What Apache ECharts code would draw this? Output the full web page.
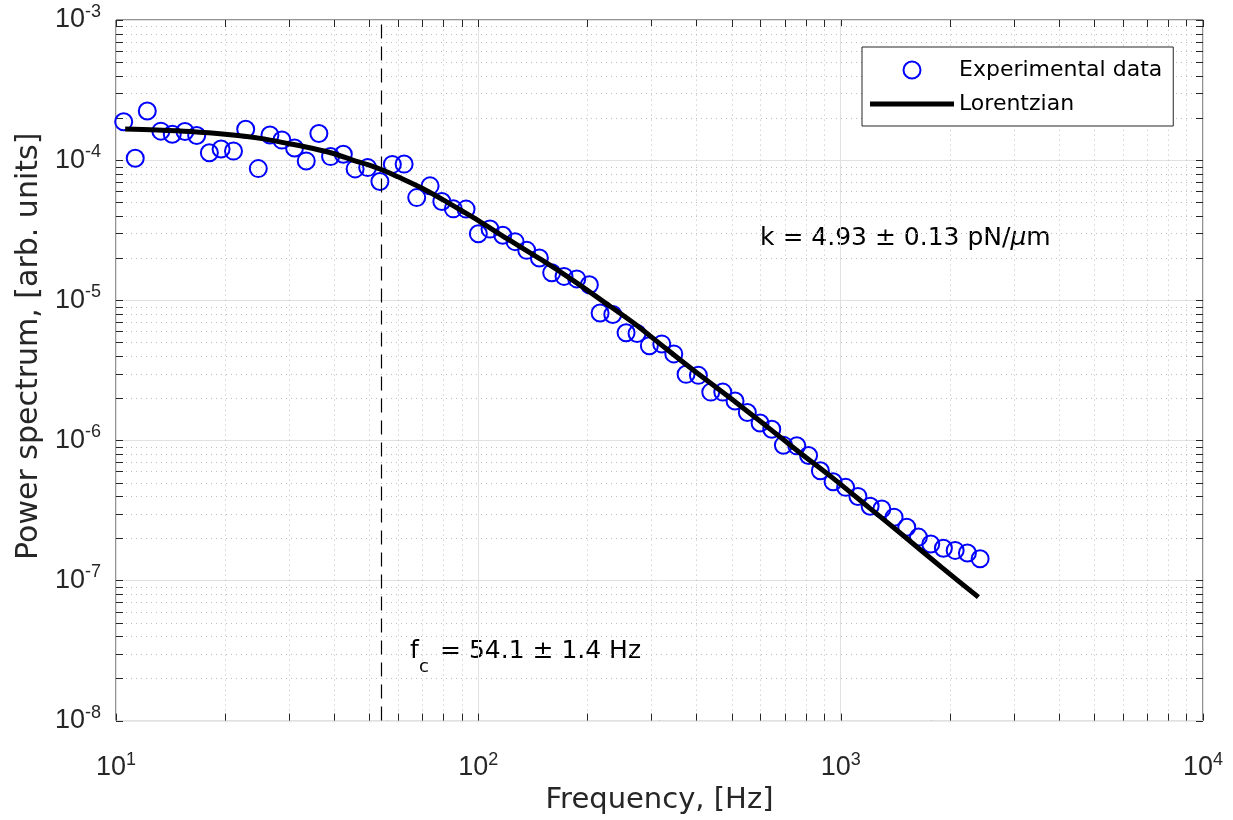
<!DOCTYPE html>
<html><head><meta charset="utf-8">
<script src="https://cdn.jsdelivr.net/npm/echarts@6/dist/echarts.min.js"></script>
<style>html,body{margin:0;padding:0;background:#fff}#c{width:1233px;height:820px}</style>
</head><body><div id="c"></div><script>
// ---- data ----
const freqHz = [10.5, 11.3, 12.2, 13.3, 14.3, 15.5, 16.7, 18.1, 19.5, 21.1,
  22.8, 24.7, 26.6, 28.7, 31.1, 33.5, 36.3, 39.1, 42.4, 45.7,
  49.5, 53.5, 57.9, 62.4, 67.6, 73.6, 79.3, 85.3, 92.5, 100,
  107.7, 116.8, 126.3, 136, 147.4, 159.4, 172.4, 186.9, 202.5, 216.8,
  235, 255.7, 274.2, 296.5, 320.8, 346.3, 374.4, 404.9, 438, 472.8,
  511.1, 552.6, 599.2, 645.4, 694.9, 756.6, 815.4, 879, 952.8, 1032,
  1116, 1206, 1299, 1404, 1522, 1639, 1773, 1921, 2070, 2238, 2426];
const powerSpectrum = [1.88e-4, 1.03e-4, 2.24e-4, 1.61e-4, 1.53e-4, 1.60e-4, 1.50e-4, 1.13e-4, 1.20e-4, 1.16e-4,
  1.66e-4, 8.70e-5, 1.51e-4, 1.39e-4, 1.22e-4, 9.87e-5, 1.55e-4, 1.06e-4, 1.10e-4, 8.66e-5,
  8.84e-5, 7.03e-5, 9.32e-5, 9.37e-5, 5.40e-5, 6.55e-5, 5.07e-5, 4.49e-5, 4.47e-5, 2.98e-5,
  3.22e-5, 2.91e-5, 2.62e-5, 2.27e-5, 2.00e-5, 1.57e-5, 1.48e-5, 1.42e-5, 1.29e-5, 8.11e-6,
  7.91e-6, 5.86e-6, 5.79e-6, 4.74e-6, 4.88e-6, 4.14e-6, 2.96e-6, 2.91e-6, 2.21e-6, 2.21e-6,
  1.91e-6, 1.58e-6, 1.33e-6, 1.20e-6, 9.24e-7, 9.14e-7, 7.79e-7, 6.07e-7, 5.07e-7, 4.62e-7,
  3.98e-7, 3.39e-7, 3.24e-7, 2.83e-7, 2.40e-7, 2.04e-7, 1.82e-7, 1.70e-7, 1.64e-7, 1.57e-7, 1.43e-7];
const fitFreqHz = [10.6, 13, 16, 20, 25, 30, 35, 40, 45, 50, 55, 60, 70, 80, 90, 100, 120, 150, 180, 220,
  270, 330, 400, 500, 620, 770, 950, 1200, 1500, 1900, 2400];
const fitPower = [1.667e-4, 1.64e-4, 1.60e-4, 1.53e-4, 1.43e-4, 1.31e-4, 1.21e-4, 1.11e-4, 1.00e-4, 9.2e-5,
  8.4e-5, 7.6e-5, 6.3e-5, 5.2e-5, 4.35e-5, 3.7e-5, 2.75e-5, 1.93e-5, 1.42e-5, 9.9e-6,
  6.8e-6, 4.5e-6, 3.05e-6, 1.97e-6, 1.28e-6, 8.2e-7, 5.4e-7, 3.3e-7, 2.06e-7, 1.24e-7, 7.6e-8];
const cornerFreqHz = 54.1;
const seriesNames = ['Experimental data', 'Lorentzian'];
const xDecades = [10, 100, 1000, 10000];
const yDecades = [1e-8, 1e-7, 1e-6, 1e-5, 1e-4, 1e-3];
const xTickExponents = ['1', '2', '3', '4'];
const yTickExponents = ['-8', '-7', '-6', '-5', '-4', '-3'];
const minorMantissas = [2, 3, 4, 5, 6, 7, 8, 9];
const xAxisTitle = 'Frequency, [Hz]';
const yAxisTitle = 'Power spectrum, [arb. units]';
const fcText = ['f', 'c', '= 54.1 ± 1.4 Hz'];
const kText = ['k = 4.93 ± 0.13 pN/', 'μ', 'm'];

// ---- styling ----
const FONT = 'DejaVu Sans';
const TICK_FONT = 'Liberation Sans';
const AXIS = '#262626';
const MAJOR_GRID = '#e1e1e1';
const MINOR_GRID = '#bdbdbd';
const TICK = 7;
const X_MIN = xDecades[0], X_MAX = xDecades[xDecades.length - 1];
const Y_MIN = yDecades[0], Y_MAX = yDecades[yDecades.length - 1];

const scatterData = freqHz.map((f, i) => [f, powerSpectrum[i]]);
const fitData = fitFreqHz.map((f, i) => [f, fitPower[i]]);

// tick positions (major = decade, minor = mantissa × decade)
const xTickData = [];
xDecades.forEach((d, i) => {
  xTickData.push([d, Y_MIN, 0]);
  if (i < xDecades.length - 1) minorMantissas.forEach(m => xTickData.push([m * d, Y_MIN, 1]));
});
const yTickData = [];
yDecades.forEach((d, i) => {
  yTickData.push([X_MIN, d, 0]);
  if (i < yDecades.length - 1) minorMantissas.forEach(m => yTickData.push([X_MIN, m * d, 1]));
});

function crisp(v) { return Math.round(v) + 0.5; }

function xTickRender(params, api) {
  const v = api.value(0);
  const minor = api.value(2) === 1;
  const b = api.coord([v, Y_MIN]);
  const t = api.coord([v, Y_MAX]);
  const x = crisp(b[0]);
  const ch = [];
  if (minor) ch.push({type: 'line', shape: {x1: x, y1: b[1], x2: x, y2: t[1]}, style: {stroke: MINOR_GRID, lineWidth: 1, lineDash: [1, 4]}});
  ch.push({type: 'line', shape: {x1: x, y1: b[1], x2: x, y2: b[1] - TICK}, style: {stroke: AXIS, lineWidth: 1}});
  ch.push({type: 'line', shape: {x1: x, y1: t[1], x2: x, y2: t[1] + TICK}, style: {stroke: AXIS, lineWidth: 1}});
  return {type: 'group', children: ch};
}
function yTickRender(params, api) {
  const v = api.value(1);
  const minor = api.value(2) === 1;
  const l = api.coord([X_MIN, v]);
  const r = api.coord([X_MAX, v]);
  const y = crisp(l[1]);
  const ch = [];
  if (minor) ch.push({type: 'line', shape: {x1: l[0], y1: y, x2: r[0], y2: y}, style: {stroke: MINOR_GRID, lineWidth: 1, lineDash: [1, 4]}});
  ch.push({type: 'line', shape: {x1: l[0], y1: y, x2: l[0] + TICK, y2: y}, style: {stroke: AXIS, lineWidth: 1}});
  ch.push({type: 'line', shape: {x1: r[0], y1: y, x2: r[0] - TICK, y2: y}, style: {stroke: AXIS, lineWidth: 1}});
  return {type: 'group', children: ch};
}

const tickRich = {
  b: {fontFamily: TICK_FONT, fontSize: 27, lineHeight: 34, color: AXIS},
  s: {fontFamily: TICK_FONT, fontSize: 18, lineHeight: 17, verticalAlign: 'top', color: AXIS}
};
function expLabel(v, decades, exps) {
  const k = Math.round(Math.log10(v));
  const idx = decades.findIndex(d => Math.round(Math.log10(d)) === k);
  return idx < 0 ? '' : '{b|10}{s|' + exps[idx] + '}';
}

const chart = echarts.init(document.getElementById('c'), null, {renderer: 'canvas'});
chart.setOption({
  animation: false,
  backgroundColor: '#fff',
  grid: {left: 116, right: 30, top: 20, bottom: 98, show: true, borderColor: AXIS, borderWidth: 1, backgroundColor: 'transparent'},
  xAxis: {
    type: 'log', logBase: 10, min: X_MIN, max: X_MAX,
    name: xAxisTitle, nameLocation: 'middle', nameGap: 58,
    nameTextStyle: {fontFamily: FONT, fontSize: 29, color: AXIS},
    axisLine: {show: false}, axisTick: {show: false},
    axisLabel: {margin: 30, formatter: v => expLabel(v, xDecades, xTickExponents), rich: tickRich},
    splitLine: {show: true, lineStyle: {color: MAJOR_GRID, width: 1}},
    minorTick: {show: false}, minorSplitLine: {show: false}
  },
  yAxis: {
    type: 'log', logBase: 10, min: Y_MIN, max: Y_MAX,
    name: yAxisTitle, nameLocation: 'middle', nameGap: 67,
    nameTextStyle: {fontFamily: FONT, fontSize: 30, color: AXIS, padding: [0, 0, 0, 48]},
    axisLine: {show: false}, axisTick: {show: false},
    axisLabel: {margin: 15, formatter: v => expLabel(v, yDecades, yTickExponents), rich: tickRich},
    splitLine: {show: true, lineStyle: {color: MAJOR_GRID, width: 1}},
    minorTick: {show: false}, minorSplitLine: {show: false}
  },
  legend: {
    orient: 'vertical', left: 862, top: 47,
    backgroundColor: '#fff', borderColor: AXIS, borderWidth: 1,
    padding: [12, 11, 11, 8], itemWidth: 84, itemHeight: 17, itemGap: 12,
    textStyle: {fontFamily: FONT, fontSize: 22, color: '#000'},
    data: [
      {name: seriesNames[0], icon: 'circle', itemStyle: {color: 'rgba(0,0,0,0)', borderColor: '#0000ff', borderWidth: 2}},
      {name: seriesNames[1], icon: 'path://M0 0H84V5H0Z', itemStyle: {color: '#000', borderWidth: 0}}
    ]
  },
  graphic: [
    {type: 'text', x: 410, y: 651, style: {text: fcText[0], fontFamily: FONT, fontSize: 25, fill: '#000', verticalAlign: 'middle'}},
    {type: 'text', x: 419, y: 667, style: {text: fcText[1], fontFamily: FONT, fontSize: 18, fill: '#000', verticalAlign: 'middle'}},
    {type: 'text', x: 440, y: 651, style: {text: fcText[2], fontFamily: FONT, fontSize: 25, fill: '#000', verticalAlign: 'middle'}},
    {type: 'text', x: 760, y: 238, style: {
      text: '{n|' + kText[0] + '}{i|' + kText[1] + '}{n|' + kText[2] + '}',
      verticalAlign: 'middle',
      rich: {n: {fontFamily: FONT, fontSize: 25, color: '#000'}, i: {fontFamily: FONT, fontSize: 25, fontStyle: 'italic', color: '#000'}}
    }}
  ],
  series: [
    {type: 'custom', silent: true, z: 1, data: xTickData, encode: {x: 0, y: 1}, renderItem: xTickRender, clip: false},
    {type: 'custom', silent: true, z: 1, data: yTickData, encode: {x: 0, y: 1}, renderItem: yTickRender, clip: false},
    {
      name: seriesNames[0], type: 'scatter', z: 3, data: scatterData,
      symbol: 'circle', symbolSize: 17,
      itemStyle: {color: 'rgba(0,0,0,0)', borderColor: '#0000ff', borderWidth: 2, opacity: 1}
    },
    {
      name: seriesNames[1], type: 'line', z: 4, data: fitData, smooth: 0.3,
      symbol: 'none', showSymbol: false,
      lineStyle: {color: '#000', width: 5},
      itemStyle: {color: '#000'},
      markLine: {
        silent: true, symbol: ['none', 'none'], label: {show: false},
        lineStyle: {color: '#000', width: 1.2, type: [14, 8]},
        data: [{xAxis: cornerFreqHz}]
      }
    }
  ]
});
</script></body></html>
